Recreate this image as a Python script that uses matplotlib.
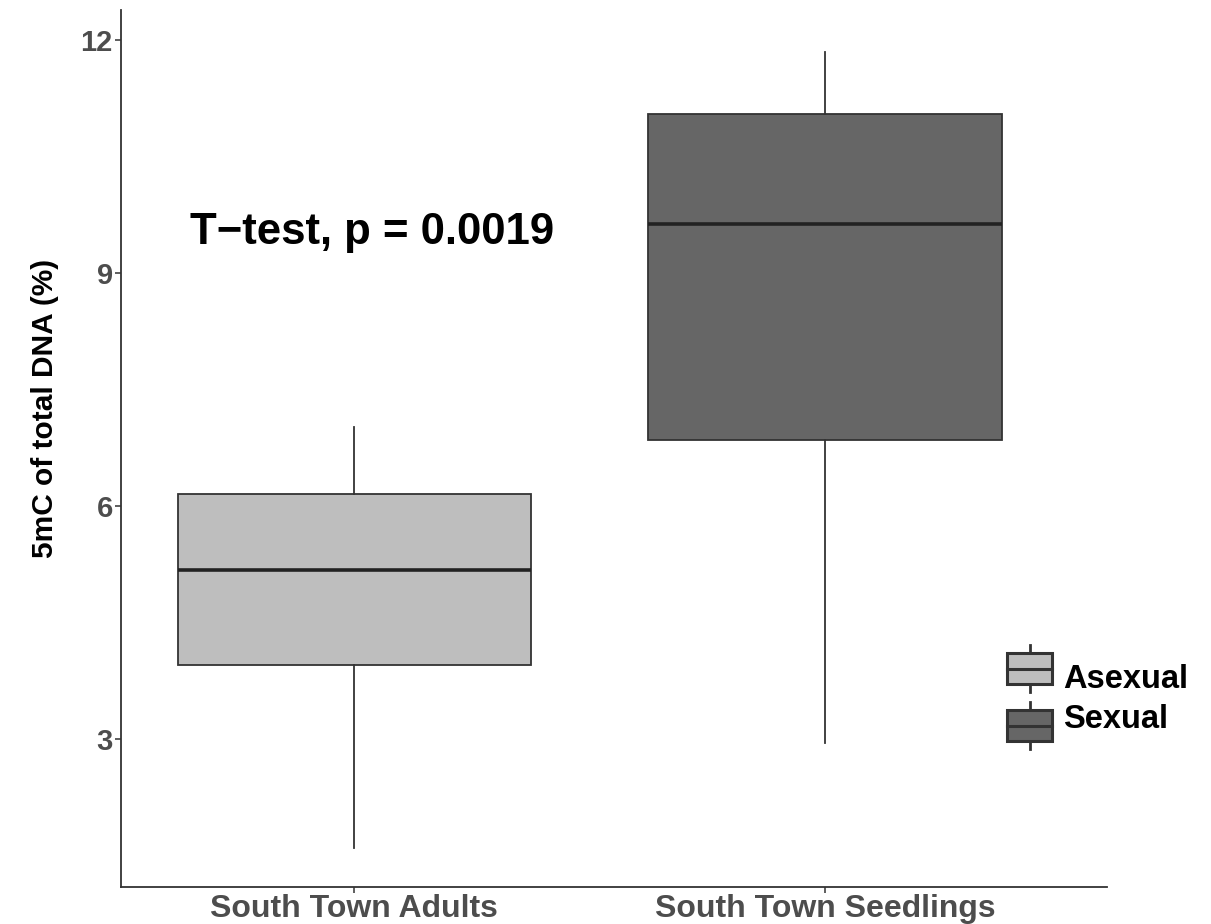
import matplotlib
matplotlib.use("Agg")
import matplotlib.pyplot as plt
from matplotlib.patches import Rectangle
from matplotlib.lines import Line2D

plt.rcParams['font.family'] = ['Liberation Sans', 'DejaVu Sans']

categories = ["South Town Adults", "South Town Seedlings"]
groups = ["Asexual", "Sexual"]
colors = ["#BEBEBE", "#666666"]
whislo = [1.60, 2.95]
q1 = [3.95, 6.85]
med = [5.18, 9.63]
q3 = [6.16, 11.05]
whishi = [7.02, 11.85]
yticks = [3, 6, 9, 12]
annotation = "T\u2212test, p = 0.0019"

W, H = 1211, 924
fig = plt.figure(figsize=(W / 100, H / 100), dpi=100)
ax = fig.add_axes([121 / W, (H - 887) / H, (1107 - 121) / W, (887 - 10) / H])

edge = "#333333"
stats = []
for i in range(2):
    stats.append(dict(whislo=whislo[i], q1=q1[i], med=med[i], q3=q3[i],
                      whishi=whishi[i], fliers=[], label=categories[i]))
positions = [1, 2]
bp = ax.bxp(stats, positions=positions, widths=0.75, patch_artist=True,
            showcaps=False, showfliers=False,
            boxprops=dict(edgecolor=edge, linewidth=1.3),
            whiskerprops=dict(color=edge, linewidth=1.3),
            medianprops=dict(color="#222222", linewidth=2.6))
for patch, c in zip(bp['boxes'], colors):
    patch.set_facecolor(c)

ax.set_xlim(0.505, 2.599)
ax.set_ylim(1.095, 12.386)
ax.set_yticks(yticks)
ax.set_yticklabels([str(t) for t in yticks])
ax.set_xticks(positions)
ax.set_xticklabels(categories)
for s in ["top", "right"]:
    ax.spines[s].set_visible(False)
for s in ["left", "bottom"]:
    ax.spines[s].set_color("#333333")
    ax.spines[s].set_linewidth(1.3)
ax.tick_params(axis='both', length=4, width=1.1, color="#333333",
               labelcolor="#4D4D4D")
ax.tick_params(axis='y', pad=2, labelsize=21)
ax.tick_params(axis='x', pad=1, labelsize=23)
for lab in ax.get_xticklabels() + ax.get_yticklabels():
    lab.set_fontweight('bold')

ax.text(0.652, 9.52, annotation, ha='left', va='center', fontsize=31.5,
        fontweight='bold', color='black')

fig.text(45 / W, 1 - 408 / H, "5mC of total DNA (%)", rotation=90,
         ha='center', va='center', fontsize=21.5, fontweight='bold')

# legend keys drawn in figure pixel space
def fx(px):
    return px / W

def fy(py):
    return 1 - py / H

key_x0, key_x1 = 1007, 1052
key_boxes = [(653, 684, 645, 692), (710, 741, 702, 749)]
text_y = [679, 719]
for (b0, b1, w0, w1), c, g, ty in zip(key_boxes, colors, groups, text_y):
    cx = (key_x0 + key_x1) / 2
    fig.add_artist(Line2D([fx(cx), fx(cx)], [fy(w0), fy(w1)], color=edge,
                          linewidth=2, transform=fig.transFigure, zorder=1))
    fig.add_artist(Rectangle((fx(key_x0), fy(b1)), fx(key_x1) - fx(key_x0),
                             fy(b0) - fy(b1), facecolor=c, edgecolor=edge,
                             linewidth=2.2, transform=fig.transFigure,
                             zorder=2))
    fig.add_artist(Line2D([fx(key_x0), fx(key_x1)], [fy((b0 + b1) / 2)] * 2,
                          color=edge, linewidth=2.2,
                          transform=fig.transFigure, zorder=3))
    fig.text(fx(1063), fy(ty), g, ha='left', va='center', fontsize=23.5,
             fontweight='bold', color='black')

fig.savefig("out.png", dpi=100)
